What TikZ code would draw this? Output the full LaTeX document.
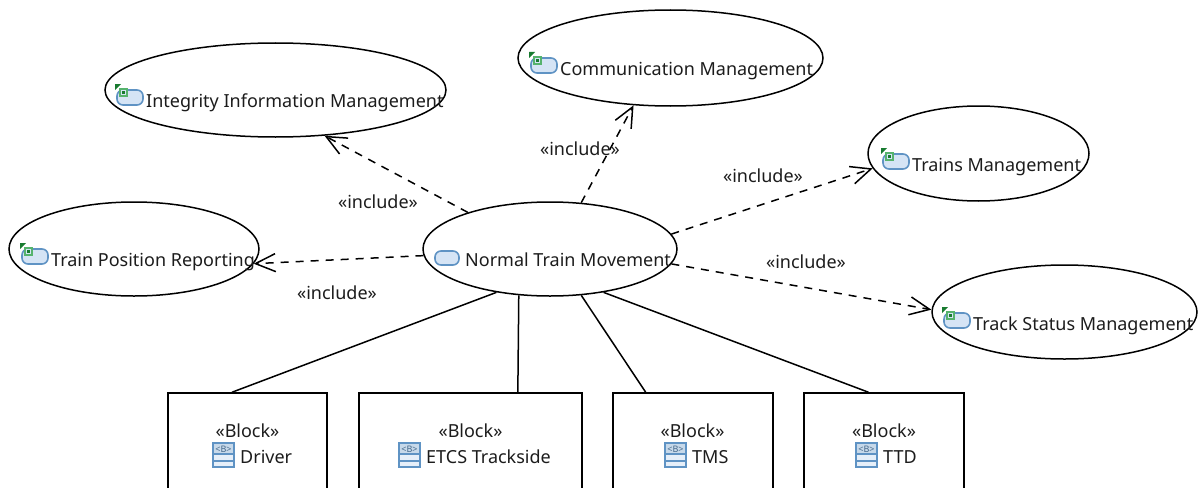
\documentclass[tikz,border=0pt]{standalone}
\usepackage{fontspec}
\setmainfont{Noto Sans}
\usetikzlibrary{shapes.geometric,arrows.meta}
\definecolor{iconfill}{HTML}{D5E4F5}
\definecolor{iconline}{HTML}{5F93C4}
\definecolor{iconmark}{HTML}{1E9A3C}
\definecolor{labelcol}{HTML}{1C1C1C}
\tikzset{
	pics/caseicon/.style={code={
		\draw[iconline,fill=iconfill,line width=1.6pt,rounded corners=6pt] (-30,-15) rectangle (-6,-1);
	}},
	pics/caseiconmark/.style={code={
		\draw[iconline,fill=iconfill,line width=1.6pt,rounded corners=6pt] (-29,-17) rectangle (-3,-2);
		\fill[iconmark!75] (-27,-19) rectangle (-18,-10);
		\fill[iconfill] (-25,-17) rectangle (-20,-12);
		\fill[iconmark!80!black] (-24,-16) rectangle (-21.5,-13.5);
		\fill[iconmark!80!black] (-31,-23) -- (-25,-23) -- (-31,-17) -- cycle;
	}},
	pics/blockicon/.style={code={
		\draw[iconline,fill=iconfill!60,line width=1.4pt] (-27,-20) rectangle (-6,4);
		\fill[iconline!35] (-26,-19) rectangle (-7,-9);
		\node[font=\fontsize{9}{9}\selectfont\bfseries,text=iconline!70!black,inner sep=0pt] at (-16.5,-14) {<B>};
		\draw[iconline,line width=1.4pt] (-27,-9) -- (-6,-9) (-27,-2) -- (-6,-2);
	}}
}
\begin{document}
\begin{tikzpicture}[x=1pt,y=-1pt]
	\tikzstyle{every node}=[text=labelcol,font=\fontsize{18}{20}\selectfont]
	\tikzstyle{usecase}=[draw=black,ellipse,line width=1.5pt,inner sep=0pt]
	\tikzstyle{block}=[draw=black,rectangle,line width=1.5pt,inner sep=0pt,minimum height=100pt]
	\tikzstyle{lbl}=[anchor=base west,inner sep=0pt]
	\tikzstyle{stereo}=[anchor=base,inner sep=0pt]
	\tikzstyle{include}=[draw=black,dash pattern=on 8pt off 7pt,line width=1.5pt,-{Straight Barb[length=20pt,width=18pt]}]
	\tikzstyle{assoc}=[draw=black,line width=1.5pt]
	\useasboundingbox (0,0) rectangle (1198,487);
	\clip (0,0) rectangle (1198,487);
	% use cases
	\node[usecase,minimum width=341pt,minimum height=94pt] (integrity) at (275.5,90) {};
	\node[usecase,minimum width=305pt,minimum height=96pt] (communication) at (670.5,58) {};
	\node[usecase,minimum width=221pt,minimum height=95pt] (trains) at (978.5,153.5) {};
	\node[usecase,minimum width=265pt,minimum height=94pt] (track) at (1064.5,312) {};
	\node[usecase,minimum width=250pt,minimum height=94pt] (position) at (134,249) {};
	\node[usecase,minimum width=254pt,minimum height=94pt] (normal) at (550,249) {};
	% blocks
	\node[block,minimum width=159pt] (driver) at (247.5,443) {};
	\node[block,minimum width=223pt] (trackside) at (470.5,443) {};
	\node[block,minimum width=160pt] (tms) at (693,443) {};
	\node[block,minimum width=160pt] (ttd) at (884,443) {};
	% use case names
	\node[lbl] (integrityName) at (146,107) {Integrity Information Management};
	\node[lbl] (communicationName) at (560,75) {Communication Management};
	\node[lbl] (trainsName) at (912,171) {Trains Management};
	\node[lbl] (trackName) at (973,330) {Track Status Management};
	\node[lbl] (positionName) at (51,266) {Train Position Reporting};
	\node[lbl] (normalName) at (465,266) {Normal Train Movement};
	\foreach \casename in {integrityName,communicationName,trainsName,trackName,positionName}
		\pic at (\casename.base west) {caseiconmark};
	\pic at (normalName.base west) {caseicon};
	% block names
	\node[stereo] (driverTag) at (247.5,437) {«Block»};
	\node[stereo] (tracksideTag) at (470.5,437) {«Block»};
	\node[stereo] (tmsTag) at (692.5,437) {«Block»};
	\node[stereo] (ttdTag) at (884,437) {«Block»};
	\node[lbl] (driverName) at (240,463) {Driver};
	\node[lbl] (tracksideName) at (426,463) {ETCS Trackside};
	\node[lbl] (tmsName) at (692,463) {TMS};
	\node[lbl] (ttdName) at (883,463) {TTD};
	\foreach \blockname in {driverName,tracksideName,tmsName,ttdName}
		\pic at (\blockname.base west) {blockicon};
	% include arrows
	\draw[include] (normal.156.8) -- (integrity.-43.5);
	\draw[include] (normal.56.9) -- (communication.232);
	\draw[include] (normal.7.6) -- (trains.188);
	\draw[include] (normal.-7.1) -- (track.179);
	\draw[include] (normal.183.6) -- (position.-7.5);
	% include labels
	\node[stereo] (includeA) at (378,208) {«include»};
	\node[stereo] (includeB) at (580,155) {«include»};
	\node[stereo] (includeC) at (763,182) {«include»};
	\node[stereo] (includeD) at (806,268) {«include»};
	\node[stereo] (includeE) at (337,299) {«include»};
	% associations
	\draw[assoc] (normal.219.6) -- (driver.107.2);
	\draw[assoc] (normal.236) -- (trackside.47);
	\draw[assoc] (normal.-56.7) -- (tms.133.8);
	\draw[assoc] (normal.-39.2) -- (ttd.107.7);
\end{tikzpicture}
\end{document}
